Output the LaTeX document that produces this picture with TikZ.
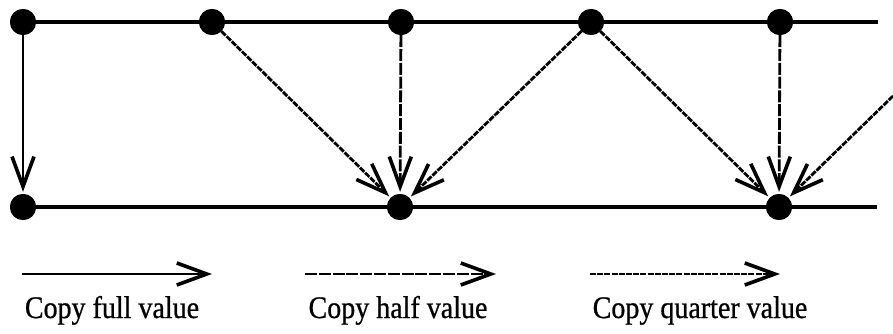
\documentclass[tikz,border=0pt]{standalone}
\usepackage{fontspec}
\setmainfont{Liberation Serif}
\newfontfamily\legendfont[FakeBold=0.8]{Liberation Serif}
\usetikzlibrary{arrows.meta}
\tikzset{
  dotnode/.style={circle, fill=black, draw=none, inner sep=0pt, minimum size=26pt},
  rail/.style={line width=3.2pt},
  fullcopy/.style={line width=2.8pt, shorten >=2pt,
    -{Straight Barb[length=30pt,width=22pt,line width=3.6pt]}},
  halfcopy/.style={fullcopy, dash pattern=on 12pt off 1.8pt},
  quartercopy/.style={fullcopy, dash pattern=on 6pt off 1.2pt},
  legendtext/.style={anchor=base, inner sep=0pt, font=\legendfont\fontsize{28}{30}\selectfont}
}
\begin{document}
\begin{tikzpicture}[x=1pt,y=-1pt]
\useasboundingbox (0,0) rectangle (893,334);
\begin{scope}
\clip (0,0) rectangle (893,334);
% rails
\coordinate (topend) at (878,22);
\coordinate (botend) at (877,207);
\node[dotnode] (t1) at (23,22) {};
\node[dotnode] (t2) at (212,22) {};
\node[dotnode] (t3) at (401,22) {};
\node[dotnode] (t4) at (591,22) {};
\node[dotnode] (t5) at (780,22) {};
\node[dotnode] (b1) at (23,207) {};
\node[dotnode] (b3) at (400,207) {};
\node[dotnode] (b5) at (779,207) {};
\coordinate (edge) at (893,96);
\draw[rail] (t1.center) -- (topend);
\draw[rail] (b1.center) -- (botend);
\node[dotnode] at (t1) {};
\node[dotnode] at (t2) {};
\node[dotnode] at (t3) {};
\node[dotnode] at (t4) {};
\node[dotnode] at (t5) {};
\node[dotnode] at (b1) {};
\node[dotnode] at (b3) {};
\node[dotnode] at (b5) {};
% copies
\draw[fullcopy] (t1) -- (b1);
\draw[quartercopy] (t2) -- (b3);
\draw[halfcopy] (t3) -- (b3);
\draw[quartercopy] (t4) -- (b3);
\draw[quartercopy] (t4) -- (b5);
\draw[halfcopy] (t5) -- (b5);
\draw[quartercopy] (edge) -- (b5);
\end{scope}
% legend
\coordinate (l1s) at (22,274); \coordinate (l1e) at (212,274);
\coordinate (l2s) at (305,274); \coordinate (l2e) at (496,274);
\coordinate (l3s) at (590,274); \coordinate (l3e) at (780,274);
\draw[fullcopy, shorten >=0pt] (l1s) -- (l1e);
\draw[halfcopy, shorten >=0pt] (l2s) -- (l2e);
\draw[quartercopy, shorten >=0pt] (l3s) -- (l3e);
\node[legendtext] (lab1) at (112,318) {\scalebox{1}[1.12]{Copy full value}};
\node[legendtext] (lab2) at (398,318) {\scalebox{1}[1.12]{Copy half value}};
\node[legendtext] (lab3) at (700,318) {\scalebox{1}[1.12]{Copy quarter value}};
\end{tikzpicture}
\end{document}
